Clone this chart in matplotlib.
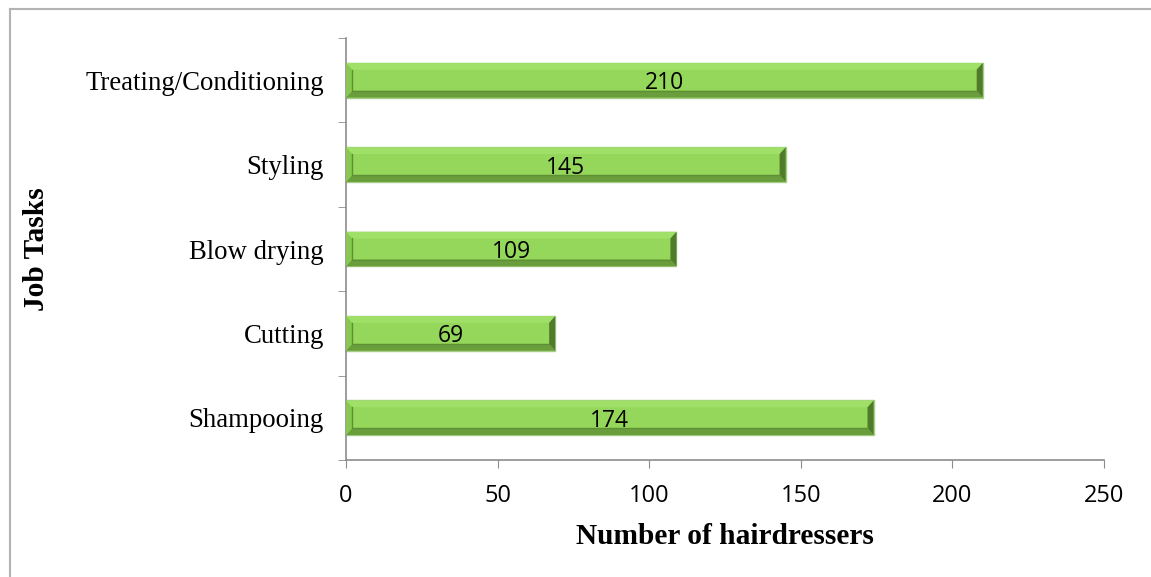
import matplotlib.pyplot as plt
from matplotlib.patches import Polygon
from matplotlib.lines import Line2D

# Job tasks, bottom to top, and the number of hairdressers doing each
tasks = ['Shampooing', 'Cutting', 'Blow drying', 'Styling', 'Treating/Conditioning']
counts = [174, 69, 109, 145, 210]
x_ticks = [0, 50, 100, 150, 200, 250]

fig = plt.figure(figsize=(11.51, 5.77), dpi=100)
ax = fig.add_axes([0.3006, 0.2028, 0.6586, 0.7313])

# chart frame (left and top edges only)
fig.add_artist(Line2D([9.5 / 1151, 9.5 / 1151], [0, 1 - 9 / 577], color='#b3b3b3', lw=1.5))
fig.add_artist(Line2D([9.5 / 1151, 1], [1 - 9 / 577, 1 - 9 / 577], color='#b3b3b3', lw=1.5))

bar_h = 0.41
bx = 2.0    # bevel width in data units along x
by = 0.08   # bevel width along y

for i, v in enumerate(counts):
    y0, y1 = i - bar_h / 2, i + bar_h / 2
    ax.barh(i, v, height=bar_h, color='#95d75a', edgecolor='#a7cc8a', lw=1, zorder=2)
    ix0, ix1, iy0, iy1 = bx, v - bx, y0 + by, y1 - by
    ax.add_patch(Polygon([(0, y1), (v, y1), (ix1, iy1), (ix0, iy1)], closed=True,
                         color='#a0e068', lw=0, zorder=3))
    ax.add_patch(Polygon([(0, y0), (v, y0), (ix1, iy0), (ix0, iy0)], closed=True,
                         color='#6a9d3c', lw=0, zorder=3))
    ax.add_patch(Polygon([(0, y0), (0, y1), (ix0, iy1), (ix0, iy0)], closed=True,
                         color='#89c750', lw=0, zorder=3))
    ax.add_patch(Polygon([(v, y0), (v, y1), (ix1, iy1), (ix1, iy0)], closed=True,
                         color='#4f7b2b', lw=0, zorder=3))
    ax.plot([ix0, ix0, ix1], [iy1, iy0, iy0], color='#5f8f35', lw=1.0, zorder=4)
    ax.text(v / 2, i - 0.035, str(v), ha='center', va='center', fontsize=16.5,
            family='Open Sans', color='black', zorder=5)

ax.set_xlim(0, 250)
ax.set_ylim(-0.5, len(tasks) - 0.5)

ax.set_xticks(x_ticks)
ax.set_xticklabels([str(t) for t in x_ticks], family='Open Sans', fontsize=17)
ax.tick_params(axis='x', length=6, color='#8c8c8c', pad=11)

ax.set_yticks(range(len(tasks)))
ax.set_yticklabels(tasks, family='Liberation Serif', fontsize=19.3)
ax.set_yticks([k - 0.5 for k in range(len(tasks) + 1)], minor=True)
ax.tick_params(axis='y', which='major', length=0, pad=16)
ax.tick_params(axis='y', which='minor', length=6, color='#8c8c8c')

for s in ['top', 'right']:
    ax.spines[s].set_visible(False)
for s in ['left', 'bottom']:
    ax.spines[s].set_color('#8c8c8c')
    ax.spines[s].set_linewidth(1.2)

fig.text(0.63, 1 - 537 / 577, 'Number of hairdressers', ha='center', va='center',
         family='Liberation Serif', fontweight='bold', fontsize=21.2)
fig.text(37 / 1151, 1 - 249 / 577, 'Job Tasks', ha='center', va='center', rotation=90,
         family='Liberation Serif', fontweight='bold', fontsize=21.2)

fig.savefig('out.png', dpi=100)
